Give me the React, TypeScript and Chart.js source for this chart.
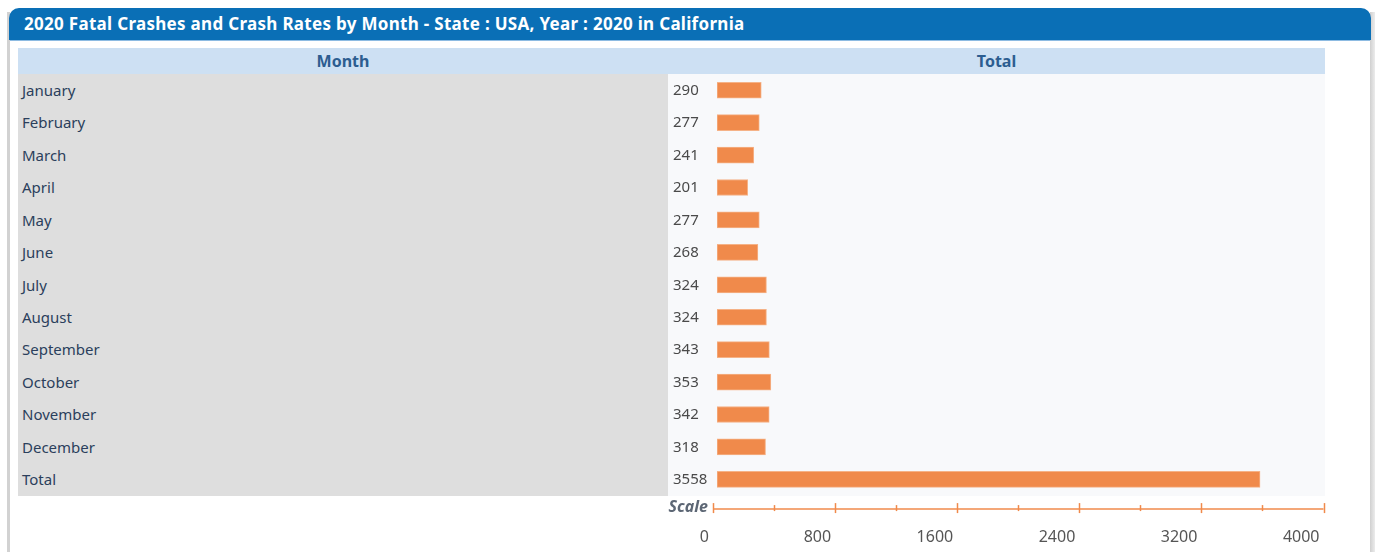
import React, { useEffect, useRef } from 'react';
import { Chart, registerables } from 'chart.js';

Chart.register(...registerables);

const titleText = '2020 Fatal Crashes and Crash Rates by Month - State : USA, Year : 2020 in California';
const columnHeaders = ['Month', 'Total'];
const months = ['January', 'February', 'March', 'April', 'May', 'June', 'July', 'August', 'September', 'October', 'November', 'December', 'Total'];
const totals = [290, 277, 241, 201, 277, 268, 324, 324, 343, 353, 342, 318, 3558];
const scaleLabels = [0, 800, 1600, 2400, 3200, 4000];
const scaleMax = 4000;
const minorStep = 400;
const scaleTitle = 'Scale';

const FONT = '"Noto Sans", "DejaVu Sans", sans-serif';
const ROW_H = 32.43;
const TABLE_TOP = 74;
const TABLE_H = ROW_H * months.length;
const CANVAS_W = 707;
const CANVAS_H = 552 - TABLE_TOP;

const tablePlugin = {
  id: 'tableExtras',
  afterDatasetsDraw(chart: any) {
    const ctx = chart.ctx;
    const xs = chart.scales.x;
    const ys = chart.scales.y;
    const area = chart.chartArea;
    ctx.save();
    // value labels
    ctx.font = '15px ' + FONT;
    ctx.fillStyle = '#4a4a4a';
    ctx.textAlign = 'left';
    ctx.textBaseline = 'middle';
    totals.forEach((v, i) => {
      ctx.fillText(String(v), 5, ys.getPixelForValue(i) + 0.5);
    });
    // scale axis
    const axisY = area.bottom + 13.5;
    const shift = -4;
    const x0 = xs.getPixelForValue(0) + shift;
    const x1 = xs.getPixelForValue(scaleMax) + shift;
    ctx.strokeStyle = '#f08a4b';
    ctx.lineWidth = 1.5;
    ctx.beginPath();
    ctx.moveTo(x0, axisY);
    ctx.lineTo(x1, axisY);
    ctx.stroke();
    for (let v = 0; v <= scaleMax; v += minorStep) {
      const px = Math.round(xs.getPixelForValue(v) + shift) + 0.5;
      const major = v % 800 === 0;
      ctx.beginPath();
      ctx.moveTo(px, axisY - (major ? 6 : 4));
      ctx.lineTo(px, axisY + (major ? 4 : 2));
      ctx.stroke();
    }
    // scale labels
    ctx.fillStyle = '#555555';
    ctx.font = '16px ' + FONT;
    ctx.textAlign = 'right';
    ctx.textBaseline = 'middle';
    scaleLabels.forEach((v) => {
      ctx.fillText(String(v), xs.getPixelForValue(v) + shift - 4, area.bottom + 42);
    });
    // scale title
    ctx.font = 'italic bold 16px ' + FONT;
    ctx.fillStyle = '#5d6775';
    ctx.textAlign = 'right';
    ctx.fillText(scaleTitle, x0 - 5, axisY - 2);
    ctx.restore();
  },
};

export default function App() {
  const canvasRef = useRef<HTMLCanvasElement | null>(null);

  useEffect(() => {
    document.body.style.margin = '0';
    const canvas = canvasRef.current;
    if (!canvas) return;
    const chart = new Chart(canvas, {
      type: 'bar',
      data: {
        labels: months,
        datasets: [
          {
            data: totals,
            backgroundColor: '#f08a4b',
            borderColor: '#f5b287',
            borderWidth: 1,
            borderSkipped: false,
            barThickness: 16,
          },
        ],
      },
      options: {
        indexAxis: 'y',
        responsive: false,
        animation: false,
        devicePixelRatio: 1,
        layout: {
          padding: { left: 49, right: CANVAS_W - 49 - 610.5, top: 0, bottom: CANVAS_H - TABLE_H },
        },
        scales: {
          x: { type: 'linear', min: 0, max: scaleMax, display: false },
          y: { type: 'category', display: false },
        },
        plugins: {
          legend: { display: false },
          tooltip: { enabled: false },
        },
      },
      plugins: [tablePlugin],
    });
    return () => chart.destroy();
  }, []);

  return (
    <div style={{ position: 'absolute', left: 0, top: 0, width: 1375, height: 552, overflow: 'hidden', background: '#ffffff', fontFamily: FONT }}>
      <div style={{ position: 'absolute', left: 7, top: 12, width: 3, height: 540, background: '#d2d2d2' }} />
      <div style={{ position: 'absolute', left: 1370, top: 12, width: 5, height: 540, background: 'linear-gradient(to right, #d0d0d0, #ececec)' }} />
      <div
        style={{
          position: 'absolute', left: 9, top: 8, width: 1362, height: 32,
          background: '#0a6fb6', borderRadius: '10px 10px 0 0',
          color: '#ffffff', fontWeight: 'bold', fontSize: 17, lineHeight: '32px', letterSpacing: '0.3px',
          paddingLeft: 15, boxSizing: 'border-box', whiteSpace: 'nowrap',
        }}
      >
        {titleText}
      </div>
      <div style={{ position: 'absolute', left: 10, top: 40, width: 1360, height: 1, background: '#8dbbe2' }} />
      <div style={{ position: 'absolute', left: 18, top: 48, width: 1307, height: 26, background: '#cde0f3' }} />
      <div style={{ position: 'absolute', left: 18, top: 48, width: 650, height: 26, lineHeight: '26px', textAlign: 'center', color: '#2c5d90', fontWeight: 'bold', fontSize: 16 }}>
        {columnHeaders[0]}
      </div>
      <div style={{ position: 'absolute', left: 668, top: 48, width: 657, height: 26, lineHeight: '26px', textAlign: 'center', color: '#2c5d90', fontWeight: 'bold', fontSize: 16 }}>
        {columnHeaders[1]}
      </div>
      <div style={{ position: 'absolute', left: 18, top: TABLE_TOP, width: 650, height: TABLE_H, background: '#dedede' }}>
        {months.map((m, i) => (
          <div key={m} style={{ position: 'absolute', left: 4, top: i * ROW_H, height: ROW_H, lineHeight: ROW_H + 'px', fontSize: 15, color: '#2b3f5c' }}>
            {m}
          </div>
        ))}
      </div>
      <div style={{ position: 'absolute', left: 668, top: TABLE_TOP, width: 657, height: TABLE_H, background: '#f8f9fb' }} />
      <canvas ref={canvasRef} width={CANVAS_W} height={CANVAS_H} style={{ position: 'absolute', left: 668, top: TABLE_TOP, width: CANVAS_W, height: CANVAS_H }} />
    </div>
  );
}
